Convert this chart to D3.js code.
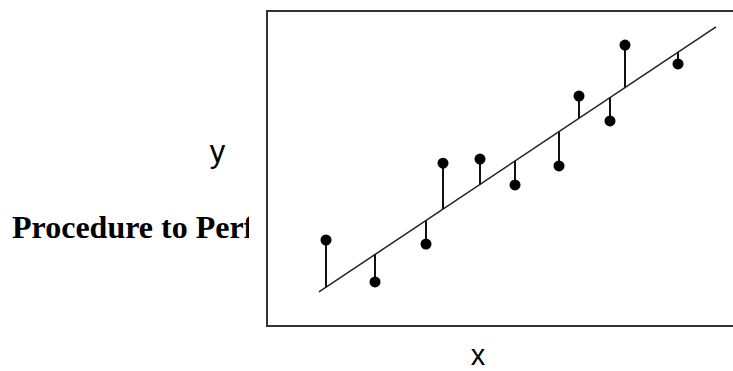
<!DOCTYPE html>
<html>
<head>
<meta charset="utf-8">
<script src="https://cdn.jsdelivr.net/npm/d3@7"></script>
<style>
  body { margin: 0; background: #fff; }
  svg { display: block; }
</style>
</head>
<body>
<svg id="chart" width="733" height="371"></svg>
<script>
const xValues = [1.18, 2.16, 3.18, 3.52, 4.26, 4.96, 5.84, 6.24, 6.86, 7.16, 8.22];
const yValues = [2.73, 1.40, 2.60, 5.17, 5.30, 4.48, 5.08, 7.30, 6.51, 8.92, 8.32];

// fitted line y = intercept + slope * x, drawn over this x span
const fitIntercept = -0.02;
const fitSlope = 1.06;
const fitSpan = [1.04, 8.98];

const xLabel = "x";
const yLabel = "y";
const sideText = "Procedure to Perform";

function fit(x) {
  return fitIntercept + fitSlope * x;
}

function drawChart() {
  const svg = d3.select("#chart");

  const x = d3.scaleLinear().domain([0, 10]).range([267, 767]);
  const y = d3.scaleLinear().domain([0, 10]).range([326, 11]);

  // heading text on the left, cut off before the frame
  svg.append("clipPath").attr("id", "textclip")
    .append("rect").attr("x", 0).attr("y", 0).attr("width", 249).attr("height", 371);

  svg.append("text")
    .attr("clip-path", "url(#textclip)")
    .attr("x", 12)
    .attr("y", 238)
    .attr("font-family", "'Liberation Serif', 'Times New Roman', serif")
    .attr("font-weight", "bold")
    .attr("font-size", 32)
    .attr("fill", "#000")
    .text(sideText);

  // frame
  svg.append("rect")
    .attr("x", x(0))
    .attr("y", y(10))
    .attr("width", x(10) - x(0))
    .attr("height", y(0) - y(10))
    .attr("fill", "none")
    .attr("stroke", "#333")
    .attr("stroke-width", 2);

  // regression line
  svg.append("line")
    .attr("x1", x(fitSpan[0]))
    .attr("y1", y(fit(fitSpan[0])))
    .attr("x2", x(fitSpan[1]))
    .attr("y2", y(fit(fitSpan[1])))
    .attr("stroke", "#222")
    .attr("stroke-width", 1.5);

  const pts = xValues.map((v, i) => ({ x: v, y: yValues[i] }));

  // residual stems
  svg.append("g").selectAll("line")
    .data(pts)
    .enter()
    .append("line")
    .attr("x1", d => x(d.x))
    .attr("x2", d => x(d.x))
    .attr("y1", d => y(d.y))
    .attr("y2", d => y(fit(d.x)))
    .attr("stroke", "#111")
    .attr("stroke-width", 2);

  svg.append("g").selectAll("circle")
    .data(pts)
    .enter()
    .append("circle")
    .attr("cx", d => x(d.x))
    .attr("cy", d => y(d.y))
    .attr("r", 5.5)
    .attr("fill", "#000");

  // axis letters
  svg.append("text")
    .attr("x", 217.5)
    .attr("y", 162)
    .attr("text-anchor", "middle")
    .attr("font-family", "'Liberation Sans', Arial, sans-serif")
    .attr("font-size", 31)
    .text(yLabel);

  svg.append("text")
    .attr("x", 478)
    .attr("y", 365)
    .attr("text-anchor", "middle")
    .attr("font-family", "'Liberation Sans', Arial, sans-serif")
    .attr("font-size", 29)
    .text(xLabel);
}

window.addEventListener('DOMContentLoaded', drawChart);
</script>
</body>
</html>
